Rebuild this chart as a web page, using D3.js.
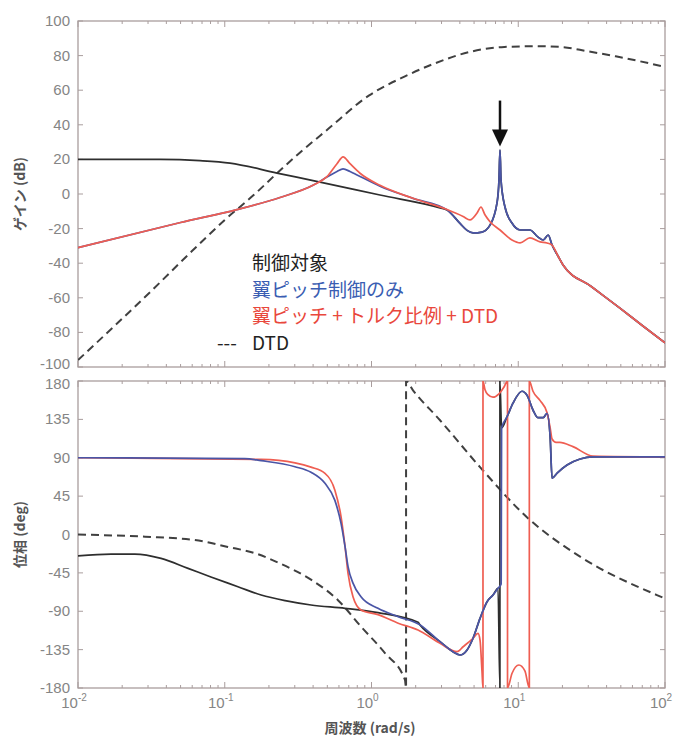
<!DOCTYPE html>
<html>
<head>
<meta charset="utf-8">
<script src="https://cdn.jsdelivr.net/npm/d3@7"></script>
<style>
body { margin: 0; background: #fff; }
</style>
</head>
<body>
<div id="chart"></div>
<script>
// [frequency rad/s, gain dB]
var dtdGain = [[0.01,-96],[0.0316,-56],[0.0598,-33],[0.1,-15],[0.158,-0.5],[0.227,12],[0.316,23],[0.497,37],[0.964,57],[1.69,68],[2.61,75],[4.88,82.5],[8.04,85],[13.2,85.4],[19.3,85],[29.8,82.5],[46.1,79.6],[100,73.5]];
var plantGainLow = [[0.01,20],[0.0362,20],[0.0678,19.3],[0.1086,17.9],[0.227,12.1],[0.446,6.9],[1.142,-0.6],[2.93,-8]];
var pitchGain = [[0.01,-31],[0.05,-16.5],[0.121,-9],[0.238,-2],[0.399,5],[0.497,9.8],[0.582,13],[0.640,14.5],[0.714,13],[0.797,11],[1.142,4.5],[1.918,-2.5],[3.27,-9.2],[4.01,-17],[4.48,-21],[4.92,-22.5],[5.66,-22],[6.42,-18],[7.17,-5],[7.39,8],[7.51,25.4],[7.63,8],[8.12,-7.5],[9.06,-16.8],[10.3,-20.8],[12.0,-20.8],[13.6,-24.8],[14.8,-26.6],[16.0,-23.7],[17.0,-29.5],[18.7,-36],[20.2,-41],[31.6,-53.6],[49.3,-66],[70,-76],[100,-86]];
var dtdPitchGain = [[0.01,-31],[0.05,-16.5],[0.121,-9],[0.238,-2],[0.399,5],[0.497,10],[0.582,17.5],[0.640,21.5],[0.714,17.5],[0.835,12],[1.142,5],[1.918,-2.5],[3.27,-9],[4.21,-13],[4.69,-15],[5.24,-11],[5.57,-7.5],[5.93,-12],[6.42,-16],[7.51,-20.8],[9.06,-26.6],[10.3,-28.3],[12.0,-25.4],[14.1,-27.7],[15.7,-28.3],[17.0,-29.5],[18.7,-36],[20.2,-41],[31.6,-53.6],[49.3,-66],[70,-76],[100,-86]];

// [frequency rad/s, phase deg]
var dtdPhase = [[0.01,0],[0.0286,-2.6],[0.0626,-6.5],[0.105,-14.6],[0.161,-22],[0.231,-33],[0.387,-53],[0.591,-77],[0.848,-108],[1.235,-139],[1.69,-170.6],[1.72,-180],[1.72,180],[1.918,169],[2.93,134],[5.49,79],[11.5,20],[26.4,-26],[88.1,-71],[100,-75]];
var plantPhaseLow = [[0.01,-25],[0.0168,-23],[0.0244,-23],[0.0368,-28],[0.0562,-39.7],[0.0805,-49.8],[0.123,-61.2],[0.177,-71],[0.258,-77.6],[0.387,-82.7],[0.660,-86.6],[1.107,-91.7],[2.075,-103]];
var plantWrap = [[7.5,-180],[7.5,180],[7.7,125]];
var pitchPhase = [[0.01,90],[0.137,89],[0.177,86.6],[0.301,79.5],[0.387,73],[0.482,60],[0.563,40],[0.620,13],[0.660,-14],[0.692,-37.7],[0.748,-57],[0.848,-73],[1.107,-86.6],[1.52,-96.4],[2.14,-106],[2.93,-125.7],[3.59,-137.4],[4.01,-141.3],[4.48,-135.4],[4.92,-121.7],[5.49,-98.3],[6.13,-78.8],[6.73,-71],[7.28,-63],[7.65,-58],[7.7,125],[8.38,138],[9.21,154],[10.6,168],[11.5,163],[12.6,146],[13.6,137],[14.8,137],[15.7,142],[16.5,114],[17.0,66],[18.4,72],[21.5,81.5],[26.4,88.5],[32.3,91],[100,91]];
var dtdPitchPhase = [[0.01,90],[0.177,88],[0.301,84],[0.387,79],[0.482,71.8],[0.563,52],[0.620,21],[0.660,-14],[0.692,-45.5],[0.748,-73],[0.848,-88.5],[1.107,-94],[1.52,-104],[2.075,-112],[2.93,-127.6],[3.83,-137.4],[4.21,-131.6],[4.92,-121.7],[5.32,-116],[5.49,-124],[5.66,-160],[5.75,-180],[5.75,180],[5.93,170],[6.22,164],[6.73,161],[7.39,165],[8.0,173],[8.45,180],[8.45,-180],[9.06,-163],[10.1,-153],[11.1,-160],[11.9,-180],[11.9,180],[12.6,168],[14.1,157],[15.7,143],[16.5,125],[17.0,112],[18.1,108],[19.2,108],[23.6,103],[32.3,92],[100,91]];

var plantGain = plantGainLow.concat(pitchGain.filter(function(d) { return d[0] >= 3.27; }));
var plantPhase = plantPhaseLow
	.concat(pitchPhase.filter(function(d) { return d[0] >= 2.14 && d[0] <= 7.28; }))
	.concat(plantWrap)
	.concat(pitchPhase.filter(function(d) { return d[0] > 7.7; }));

var gainTicks = [100, 80, 60, 40, 20, 0, -20, -40, -60, -80, -100];
var phaseTicks = [180, 135, 90, 45, 0, -45, -90, -135, -180];
var freqTicks = [0.01, 0.1, 1, 10, 100];
var freqExponents = ["-2", "-1", "0", "1", "2"];

var legendItems = [
	{ text: "制御対象", color: "#222222" },
	{ text: "翼ピッチ制御のみ", color: "#3a5db2" },
	{ text: "翼ピッチ + トルク比例 + DTD", color: "#e9473c" },
	{ text: "DTD", color: "#222222" }
];

// arrow annotation (frequency, top dB, tip dB)
var arrowFreq = 7.51, arrowTop = 54, arrowTip = 27.5;

// Width and height
var w = 694;
var h = 738;
var left = 78, right = 665;
var gainTop = 21, gainBottom = 367;
var phaseTop = 381, phaseBottom = 688;

var frameColor = "#a99d9d";
var tickText = "#858585";
var blackLine = "#2e2e2e";
var blueLine = "#4a55a6";
var redLine = "#ef5e52";
var dashLine = "#404040";

var svg = d3.select("#chart")
			.append("svg")
			.attr("width", w)
			.attr("height", h)
			.style("font-family", "'Liberation Sans', Arial, sans-serif");

var x = d3.scaleLog().domain([0.01, 100]).range([left, right]);
var yGain = d3.scaleLinear().domain([-100, 100]).range([gainBottom, gainTop]);
var yPhase = d3.scaleLinear().domain([-180, 180]).range([phaseBottom, phaseTop]);

var minorTicks = x.ticks().filter(function(t) {
	return freqTicks.indexOf(t) < 0;
});

function drawPanel(id, y, top, bottom, ticks) {
	var g = svg.append("g").attr("class", id);

	svg.append("clipPath").attr("id", "clip-" + id)
		.append("rect")
		.attr("x", left).attr("y", top)
		.attr("width", right - left).attr("height", bottom - top);

	// y ticks on both sides
	ticks.forEach(function(t, i) {
		// the two panels meet closely, nudge the end labels apart
		var nudge = 0;
		if (id == "gain" && i == ticks.length - 1) nudge = -3;
		if (id == "phase" && i == 0) nudge = 3;

		g.append("line").attr("x1", left).attr("x2", left + 5)
			.attr("y1", y(t)).attr("y2", y(t))
			.style("stroke", frameColor);
		g.append("line").attr("x1", right).attr("x2", right - 5)
			.attr("y1", y(t)).attr("y2", y(t))
			.style("stroke", frameColor);
		g.append("text")
			.attr("x", left - 8)
			.attr("y", y(t) + 5 + nudge)
			.attr("text-anchor", "end")
			.style("font-size", "15px")
			.style("fill", tickText)
			.text(t);
	});

	// x ticks top and bottom
	freqTicks.forEach(function(t) {
		g.append("line").attr("x1", x(t)).attr("x2", x(t))
			.attr("y1", bottom).attr("y2", bottom - 6)
			.style("stroke", frameColor);
		g.append("line").attr("x1", x(t)).attr("x2", x(t))
			.attr("y1", top).attr("y2", top + 6)
			.style("stroke", frameColor);
	});
	minorTicks.forEach(function(t) {
		g.append("line").attr("x1", x(t)).attr("x2", x(t))
			.attr("y1", bottom).attr("y2", bottom - 3)
			.style("stroke", frameColor);
		g.append("line").attr("x1", x(t)).attr("x2", x(t))
			.attr("y1", top).attr("y2", top + 3)
			.style("stroke", frameColor);
	});

	g.append("rect")
		.attr("x", left).attr("y", top)
		.attr("width", right - left).attr("height", bottom - top)
		.style("fill", "none")
		.style("stroke", frameColor)
		.style("stroke-width", 1.3);

	return g;
}

function drawCurve(g, id, data, y, color, dashed) {
	var line = d3.line()
		.x(function(d) { return x(d[0]); })
		.y(function(d) { return y(d[1]); })
		.curve(d3.curveMonotoneX);

	g.append("path")
		.attr("d", line(data))
		.attr("clip-path", "url(#clip-" + id + ")")
		.style("fill", "none")
		.style("stroke", color)
		.style("stroke-width", dashed ? 2 : 1.7)
		.style("stroke-dasharray", dashed ? "8,5" : null)
		.style("stroke-linejoin", "round");
}

// gain panel
var gainPanel = drawPanel("gain", yGain, gainTop, gainBottom, gainTicks);
drawCurve(gainPanel, "gain", dtdGain, yGain, dashLine, true);
drawCurve(gainPanel, "gain", plantGain, yGain, blackLine, false);
drawCurve(gainPanel, "gain", pitchGain, yGain, blueLine, false);
drawCurve(gainPanel, "gain", dtdPitchGain, yGain, redLine, false);

// phase panel
var phasePanel = drawPanel("phase", yPhase, phaseTop, phaseBottom, phaseTicks);
drawCurve(phasePanel, "phase", dtdPhase, yPhase, dashLine, true);
drawCurve(phasePanel, "phase", plantPhase, yPhase, blackLine, false);
drawCurve(phasePanel, "phase", dtdPitchPhase, yPhase, redLine, false);
drawCurve(phasePanel, "phase", pitchPhase, yPhase, blueLine, false);

// x tick labels (10^n)
freqTicks.forEach(function(t, i) {
	var lbl = svg.append("text")
		.attr("x", x(t) - 4)
		.attr("y", 708)
		.attr("text-anchor", "middle")
		.style("font-size", "15px")
		.style("fill", tickText);
	lbl.append("tspan").text("10");
	lbl.append("tspan")
		.attr("dy", -7)
		.style("font-size", "10px")
		.text(freqExponents[i]);
});

// axis titles
svg.append("text")
	.attr("transform", "translate(25," + yGain(0) + ") rotate(-90)")
	.attr("text-anchor", "middle")
	.style("font-family", "'Noto Sans CJK JP', sans-serif")
	.style("font-size", "14px")
	.style("font-weight", "bold")
	.style("fill", "#555")
	.text("ゲイン (dB)");

svg.append("text")
	.attr("transform", "translate(25," + yPhase(0) + ") rotate(-90)")
	.attr("text-anchor", "middle")
	.style("font-family", "'Noto Sans CJK JP', sans-serif")
	.style("font-size", "14px")
	.style("font-weight", "bold")
	.style("fill", "#555")
	.text("位相 (deg)");

svg.append("text")
	.attr("x", 370)
	.attr("y", 733)
	.attr("text-anchor", "middle")
	.style("font-family", "'Noto Sans CJK JP', sans-serif")
	.style("font-size", "14px")
	.style("font-weight", "bold")
	.style("fill", "#555")
	.text("周波数 (rad/s)");

// legend
var legend = svg.append("g").attr("class", "legend");
legendItems.forEach(function(d, i) {
	legend.append("text")
		.attr("x", 252)
		.attr("y", 270 + i * 26.5)
		.style("font-family", "'Noto Sans CJK JP', sans-serif")
		.style("font-size", "19px")
		.style("fill", d.color)
		.text(d.text);
});
legend.append("text")
	.attr("x", 217)
	.attr("y", 270 + 3 * 26.5)
	.style("font-family", "'Noto Sans CJK JP', sans-serif")
	.style("font-size", "19px")
	.style("fill", "#222")
	.text("---");

// arrow pointing at the resonance
var ax = x(arrowFreq);
svg.append("line")
	.attr("x1", ax).attr("x2", ax)
	.attr("y1", yGain(arrowTop)).attr("y2", yGain(arrowTip) - 12)
	.style("stroke", "#111")
	.style("stroke-width", 2.5);
svg.append("path")
	.attr("d", "M" + (ax - 8) + "," + (yGain(arrowTip) - 17) +
		" L" + (ax + 8) + "," + (yGain(arrowTip) - 17) +
		" L" + ax + "," + yGain(arrowTip) + " Z")
	.style("fill", "#111");
</script>
</body>
</html>
